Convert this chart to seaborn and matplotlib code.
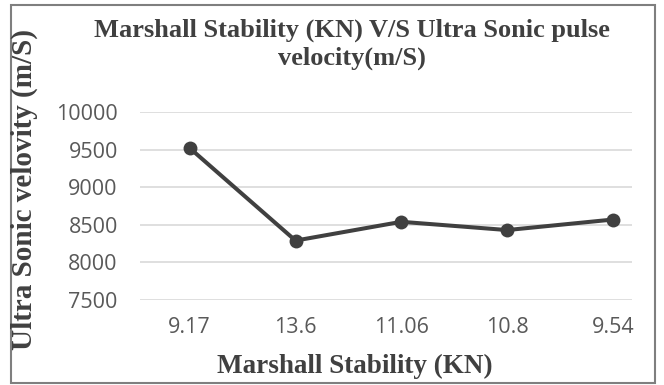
import matplotlib
matplotlib.use("Agg")
import matplotlib.pyplot as plt
import seaborn as sns
import pandas as pd
from matplotlib.patches import Rectangle

categories = ["9.17", "13.6", "11.06", "10.8", "9.54"]
velocity = [9520, 8290, 8540, 8430, 8570]
yticks = [7500, 8000, 8500, 9000, 9500, 10000]

title = "Marshall Stability (KN) V/S Ultra Sonic pulse\nvelocity(m/S)"
xlabel = "Marshall Stability (KN)"
ylabel = "Ultra Sonic velovity (m/S)"

sns.set_theme(style="white")
plt.rcParams['font.family'] = ['Open Sans', 'DejaVu Sans']

df = pd.DataFrame({"x": categories, "y": velocity})

W, H = 664, 385
fig = plt.figure(figsize=(W / 100, H / 100), dpi=100)
ax = fig.add_axes([140 / W, 1 - 300 / H, (632 - 140) / W, (300 - 112) / H])

sns.lineplot(data=df, x="x", y="y", sort=False, ax=ax, color="#404040",
             linewidth=2.9, marker="o", markersize=10, markeredgewidth=0,
             markerfacecolor="#404040")

ax.set_xlim(-0.47, 4.18)
ax.set_ylim(7500, 10000)
ax.set_yticks(yticks)
ax.set_yticklabels([str(v) for v in yticks])
ax.grid(axis="y", color="#d9d9d9", linewidth=1.2)
ax.grid(axis="x", visible=False)
ax.set_axisbelow(True)
for s in ax.spines.values():
    s.set_visible(False)
ax.tick_params(axis="both", length=0, labelsize=15.5, labelcolor="#595959")
ax.tick_params(axis="x", pad=12)
ax.tick_params(axis="y", pad=16)
ax.set_xlabel("")
ax.set_ylabel("")

serif = ['Liberation Serif', 'DejaVu Serif']
fig.text(352 / W, 1 - 44 / H, title, ha="center", va="center",
         fontsize=19, fontweight="bold", family=serif, color="#404040",
         linespacing=1.25)
fig.text(355 / W, 1 - 366 / H, xlabel, ha="center", va="center",
         fontsize=19.5, fontweight="bold", family=serif, color="#404040")
fig.text(24 / W, 1 - 190 / H, ylabel, ha="center", va="center", rotation=90,
         fontsize=21, fontweight="bold", family=serif, color="#404040")

fig.patches.append(Rectangle((11 / W, 2 / H), (655 - 11) / W, (380 - 2) / H,
                             transform=fig.transFigure, fill=False,
                             edgecolor="#7f7f7f", linewidth=1.5))

fig.savefig("out.png", dpi=100, facecolor="white")
